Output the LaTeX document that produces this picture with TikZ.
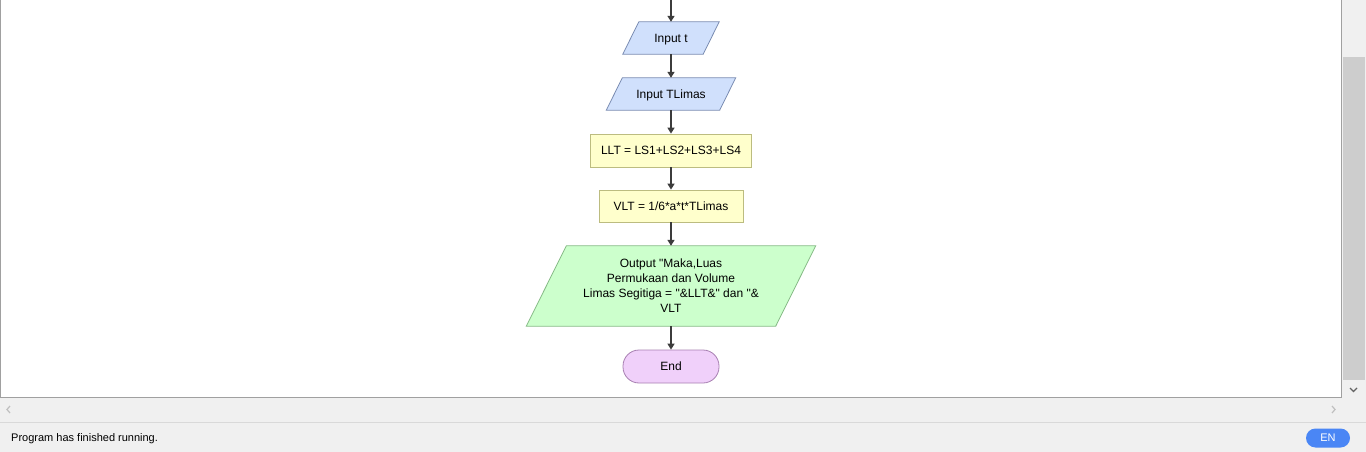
\documentclass[tikz,border=0pt]{standalone}
\usepackage{fontspec}
\setmainfont{Liberation Sans}
\usetikzlibrary{arrows.meta,backgrounds}
\pgfdeclarelayer{ui}
\pgfsetlayers{ui,background,main}
\definecolor{inFill}{RGB}{208,224,252}
\definecolor{inLine}{RGB}{122,140,178}
\definecolor{prFill}{RGB}{255,255,204}
\definecolor{prLine}{RGB}{188,188,128}
\definecolor{outFill}{RGB}{204,255,204}
\definecolor{outLine}{RGB}{134,186,134}
\definecolor{endFill}{RGB}{240,208,250}
\definecolor{endLine}{RGB}{168,128,178}
\definecolor{arrCol}{RGB}{60,60,60}
\definecolor{uiBg}{RGB}{240,240,240}
\definecolor{uiBorder}{RGB}{160,160,160}
\definecolor{thumb}{RGB}{205,205,205}
\definecolor{enBlue}{RGB}{74,134,245}
\newcommand\paradraw[3]{%
  \begin{scope}[on background layer]
    \draw[#3] ([xshift=#2]#1.north west) -- ([xshift=#2]#1.north east)
      -- ([xshift=-#2]#1.south east) -- ([xshift=-#2]#1.south west) -- cycle;
  \end{scope}}
\tikzset{
  lbl/.style={font=\fontsize{12}{15}\selectfont, text=black, inner sep=0pt, align=center},
  oneline/.style={text height=8.6pt, text depth=0pt},
  parabox/.style={lbl, draw=none, rectangle},
  inshape/.style={fill=inFill, draw=inLine, line width=0.8pt},
  outshape/.style={fill=outFill, draw=outLine, line width=0.8pt},
  procbox/.style={lbl, oneline, rectangle, fill=prFill, draw=prLine, line width=0.8pt},
  endbox/.style={lbl, oneline, rectangle, rounded corners=16pt, fill=endFill, draw=endLine, line width=0.8pt},
  arr/.style={draw=arrCol, line width=2pt, -{Triangle[width=7pt,length=6pt]}},
}
\begin{document}
\begin{tikzpicture}[x=1pt,y=-1pt]
  \useasboundingbox (0,0) rectangle (1366,452);
  % UI background
  \begin{pgfonlayer}{ui}
  \fill[white] (0,0) rectangle (1342,397);
  \fill[uiBg] (1342,0) rectangle (1366,452);
  \fill[uiBg] (0,397) rectangle (1366,452);
  \draw[uiBorder, line width=1pt] (0.5,0) -- (0.5,397.5) -- (1341.5,397.5) -- (1341.5,0);
  \fill[thumb] (1343,57) rectangle (1365,380);
  \draw[arrCol!80, line width=1.2pt] (1350,388) -- (1353.5,391.5) -- (1357,388);
  \draw[black!25, line width=1.2pt] (10,406) -- (7,409.5) -- (10,413);
  \draw[black!25, line width=1.2pt] (1332,406) -- (1335,409.5) -- (1332,413);
  \draw[black!15, line width=0.8pt] (0,422.5) -- (1366,422.5);
  \end{pgfonlayer}
  \node[anchor=west, font=\fontsize{11}{13}\selectfont, inner sep=0pt, text height=7.9pt, text depth=0pt] (status) at (11,438) {Program has finished running.};
  \node[rectangle, rounded corners=9.5pt, fill=enBlue, minimum width=44pt, minimum height=19pt, inner sep=0pt,
        font=\fontsize{11}{13}\selectfont, text=white, text height=7.9pt, text depth=0pt] (en) at (1328,438) {EN};

  % flowchart
  \coordinate (top) at (671,0);
  \node[parabox, oneline, minimum width=80pt, minimum height=32pt] (in1) at (671,38) {Input t};
  \paradraw{in1}{8pt}{inshape}
  \node[parabox, oneline, minimum width=113pt, minimum height=32pt] (in2) at (671,94) {Input TLimas};
  \paradraw{in2}{8pt}{inshape}
  \node[procbox, minimum width=161pt, minimum height=33pt] (p1) at (671,150.5) {LLT = LS1+LS2+LS3+LS4};
  \node[procbox, minimum width=144pt, minimum height=32pt] (p2) at (671,206) {VLT = 1/6*a*t*TLimas};
  \node[parabox, minimum width=249pt, minimum height=80pt] (out) at (671,286)
    {Output \textquotedbl Maka,Luas\\Permukaan dan Volume\\Limas Segitiga = \textquotedbl\&LLT\&\textquotedbl{} dan \textquotedbl\&\\VLT};
  \paradraw{out}{20pt}{outshape}
  \node[endbox, minimum width=96pt, minimum height=33pt] (end) at (671,366.5) {End};

  \draw[arr] (top) -- (in1.north);
  \draw[arr] (in1.south) -- (in2.north);
  \draw[arr] (in2.south) -- (p1.north);
  \draw[arr] (p1.south) -- (p2.north);
  \draw[arr] (p2.south) -- (out.north);
  \draw[arr] (out.south) -- (end.north);
\end{tikzpicture}
\end{document}
